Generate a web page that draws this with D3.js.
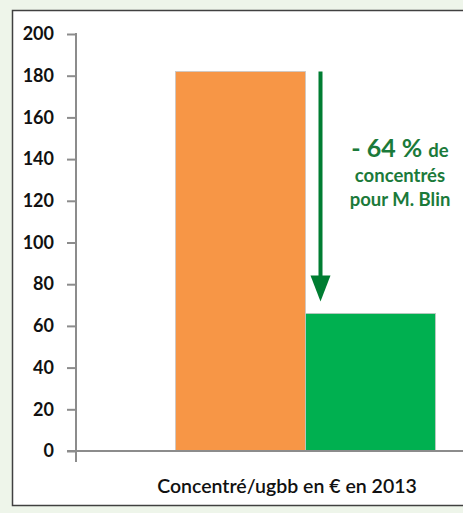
<!DOCTYPE html>
<html>
<head>
<meta charset="utf-8">
<script src="https://cdnjs.cloudflare.com/ajax/libs/d3/7.8.5/d3.min.js"></script>
<style>
  html, body { margin: 0; padding: 0; background: #eef5ea; overflow: hidden; }
  svg { display: block; }
</style>
</head>
<body>
<div id="chart"></div>
<script>
// data
var categories = ["Concentré/ugbb en € en 2013"]
var series = ["Moyenne", "M. Blin"]
var values = [182, 66]
var colors = ["#f79646", "#00b050"]
var yTicks = [0, 20, 40, 60, 80, 100, 120, 140, 160, 180, 200]
var note = { big: "- 64 %", small: "de", lines: ["concentrés", "pour M. Blin"] }

const width = 463, height = 513
const margin = {top: 34, left: 76, bottom: 62}

const svg = d3.select("#chart")
  .append("svg")
  .attr("width", width)
  .attr("height", height)

// white chart frame
svg.append("rect")
  .attr("x", 12.5).attr("y", 10.5)
  .attr("width", 500).attr("height", 495)
  .attr("fill", "#fff")
  .attr("stroke", "#404040")
  .attr("stroke-width", 1.5)

const y = d3.scaleLinear()
  .domain([0, 200])
  .range([height - margin.bottom, margin.top])

const x0 = d3.scaleBand()
  .domain(categories)
  .range([margin.left, 535])

const x1 = d3.scaleBand()
  .domain(series)
  .range([0, x0.bandwidth()])
  .paddingInner(0)
  .paddingOuter(0.765)

// bars
const g = svg.append("g")
  .attr("transform", `translate(${x0(categories[0])},0)`)

g.selectAll("rect")
  .data(values)
  .enter()
  .append("rect")
  .attr("x", (d, i) => x1(series[i]))
  .attr("y", d => y(d))
  .attr("width", x1.bandwidth())
  .attr("height", d => y(0) - y(d))
  .attr("fill", (d, i) => colors[i])
  .attr("stroke", "#c8c8c8")
  .attr("stroke-width", 0.8)

// x axis line
svg.append("line")
  .attr("x1", margin.left - 9).attr("x2", width)
  .attr("y1", y(0)).attr("y2", y(0))
  .attr("stroke", "#8c8c8c").attr("stroke-width", 2)

// y axis
const yAxis = svg.append("g")
  .attr("transform", `translate(${margin.left},0)`)
  .call(d3.axisLeft(y).tickValues(yTicks).tickSize(9).tickPadding(13))

yAxis.select(".domain").remove()
yAxis.selectAll(".tick line").attr("stroke", "#8c8c8c").attr("stroke-width", 2)
yAxis.selectAll(".tick text")
  .attr("fill", "#111")
  .style("font-family", "Lato, 'Open Sans', sans-serif")
  .style("font-weight", "bold")
  .style("font-size", "18px")

svg.append("line")
  .attr("x1", margin.left).attr("x2", margin.left)
  .attr("y1", y(200) - 1).attr("y2", y(0) + 11)
  .attr("stroke", "#8c8c8c").attr("stroke-width", 2)

// category label
svg.append("text")
  .attr("x", 287)
  .attr("y", 493)
  .attr("text-anchor", "middle")
  .attr("fill", "#111")
  .style("font-family", "Lato, 'Open Sans', sans-serif")
  .style("font-size", "19.5px")
  .style("font-weight", "600")
  .text(categories[0])

// arrow from first bar down to second
const ax = x0(categories[0]) + x1(series[1]) + 15
const arrowColor = "#007d32"
svg.append("line")
  .attr("x1", ax).attr("x2", ax)
  .attr("y1", y(values[0])).attr("y2", y(values[1]) - 30)
  .attr("stroke", arrowColor).attr("stroke-width", 4)

svg.append("path")
  .attr("d", `M${ax - 10},${y(values[1]) - 38} L${ax + 10},${y(values[1]) - 38} L${ax},${y(values[1]) - 12} Z`)
  .attr("fill", arrowColor)

// annotation
const tx = 400
const t1 = svg.append("text")
  .attr("x", tx).attr("y", 157)
  .attr("text-anchor", "middle")
  .attr("fill", "#1b7a3a")
  .style("font-family", "Lato, 'Open Sans', sans-serif")
  .style("font-weight", "bold")
t1.append("tspan").style("font-size", "25px").text(note.big + " ")
t1.append("tspan").style("font-size", "18.5px").text(note.small)

note.lines.forEach((l, i) => {
  svg.append("text")
    .attr("x", tx).attr("y", 182 + i * 24)
    .attr("text-anchor", "middle")
    .attr("fill", "#1b7a3a")
    .style("font-family", "Lato, 'Open Sans', sans-serif")
    .style("font-weight", "bold")
    .style("font-size", "18.5px")
    .text(l)
})
</script>
</body>
</html>
